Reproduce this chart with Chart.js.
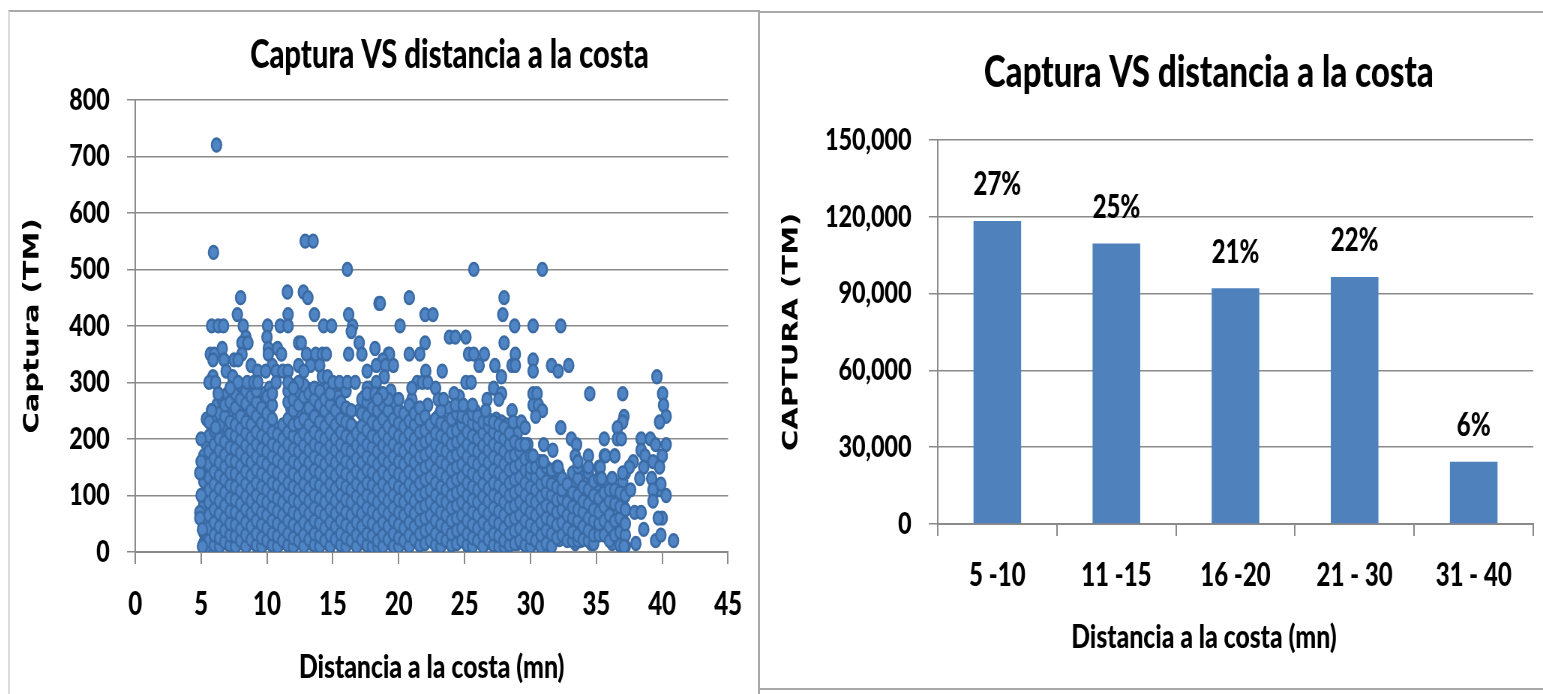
<!DOCTYPE html>
<html>
<head>
<meta charset="utf-8">
<script src="https://cdn.jsdelivr.net/npm/chart.js@4/dist/chart.umd.min.js"></script>
<style>
  body { margin: 0; background: #fff; overflow: hidden; }
  canvas { position: absolute; transform: scaleX(0.75); transform-origin: 0 0; }
  .marco { position: absolute; box-sizing: border-box; }
</style>
</head>
<body>
<div class="marco" style="left:8px;top:10px;width:752px;height:700px;border-top:2px solid #a9a9a9;border-left:2px solid #dcdcdc;border-right:2px solid #a9a9a9"></div>
<div class="marco" style="left:760px;top:11px;width:800px;height:679px;border-top:2px solid #a9a9a9;border-bottom:2px solid #a9a9a9"></div>
<canvas id="dispersion" width="997" height="683" style="left:10px;top:12px"></canvas>
<canvas id="barras" width="1044" height="682" style="left:760px;top:12px"></canvas>
<script>
// tramos de distancia (mn)
var columnasX = [5.2,5.6,6.0,6.4,6.8,7.2,7.6,8.0,8.4,8.8,9.2,9.6,10.0,10.4,10.8,11.2,11.6,12.0,12.4,12.8,13.2,13.6,14.0,14.4,14.8,15.2,15.6,16.0,16.4,16.8,17.2,17.6,18.0,18.4,18.8,19.2,19.6,20.0,20.4,20.8,21.2,21.6,22.0,22.4,22.8,23.2,23.6,24.0,24.4,24.8,25.2,25.6,26.0,26.4,26.8,27.2,27.6,28.0,28.4,28.8,29.2,29.6,30.0,30.4,30.8,31.2,31.6,32.0,32.4,32.8,33.2,33.6,34.0,34.4,34.8,35.2,35.6,36.0,36.4,36.8,37.2];
var columnasY = [
  [15,35,60,85,100,125,150,170],
  [20,42,65,88,110,132,155,178,205],
  [12,30,52,75,98,120,142,165,190,215],
  [10,25,45,68,90,112,135,158,180,200,225,245],
  [18,38,60,82,105,128,150,172,195,240,260],
  [12,30,50,72,95,118,140,162,185,210,230,265],
  [10,28,48,70,92,115,138,160,182,205,225,255,280],
  [20,40,62,85,108,130,152,175,198,218,240,270,295],
  [10,30,52,75,98,120,142,165,188,210,230,262,285],
  [22,45,68,90,112,135,158,180,202,225,250,275],
  [12,32,55,78,100,122,145,168,190,212,240,265,285],
  [10,25,48,70,92,115,138,160,182,205,228,255],
  [20,42,65,88,110,132,155,178,200,222,245,275],
  [12,32,55,78,100,122,145,168,190,212,235,260,280],
  [10,28,50,72,95,118,140,162,185,208],
  [20,42,65,88,110,132,155,178,200,225],
  [12,32,55,78,100,122,145,168,190,212,235,265,285],
  [10,25,48,70,92,115,138,160,182,205,225,250,270],
  [20,42,65,88,110,132,155,178,200,228,260,285],
  [10,30,52,75,98,120,142,165,188,210,235,275,295],
  [22,45,68,90,112,135,158,180,202,225,255,280],
  [12,32,55,78,100,122,145,168,190,212,240,270,290],
  [10,28,50,72,95,118,140,162,185,205,230,260,285],
  [20,42,65,88,110,132,155,178,200,222,250,270],
  [10,30,52,75,98,120,142,165,188,210,235,260,280],
  [22,45,68,90,112,135,158,180,200,225,250],
  [12,32,55,78,100,122,145,168,190,212,235,265],
  [10,25,48,70,92,115,138,160,182,205,230,255,285],
  [20,42,65,88,110,132,155,178,200,225,250],
  [10,30,52,75,98,120,142,165,188,210],
  [22,45,68,90,112,135,158,180,200,222,245,270],
  [12,32,55,78,100,122,145,168,190,215,240,265,290],
  [10,28,50,72,95,118,140,162,185,205,230,255],
  [10,20,42,65,88,110,132,155,178,200,225,250,275],
  [10,30,52,75,98,120,142,165,188,210,235,260],
  [22,45,68,90,112,135,158,180,200,222,250,270],
  [10,32,55,78,100,122,145,168,190,212,235],
  [10,25,48,70,92,115,138,160,182,205,228,250],
  [20,42,65,88,110,132,155,178,200,222,245],
  [10,30,52,75,98,120,142,165,188,210,232,260],
  [22,45,68,90,112,135,158,180,200,225,245],
  [12,32,55,78,100,122,145,168,190,212,235,255],
  [15,38,60,82,105,128,150,172,195,215,240],
  [20,42,65,88,110,132,155,178,200,225],
  [12,32,55,78,100,122,145,168,190,210,235],
  [10,25,48,70,92,115,138,160,182,205,228,250],
  [20,42,65,88,110,132,155,178,200,222],
  [12,32,55,78,100,122,145,168,190,212,235],
  [15,38,60,82,105,128,150,172,195,215,245],
  [20,42,65,88,110,132,155,178,200,225,240],
  [12,32,55,78,100,122,145,168,190,212,235],
  [10,25,48,70,92,115,138,160,182,205,228,245],
  [20,42,65,88,110,132,155,178,200,225,240],
  [10,30,52,75,98,120,142,165,188,210,230],
  [22,45,68,90,112,135,158,180,200,222,235],
  [12,32,55,78,100,122,145,168,190,212,230],
  [10,28,50,72,95,118,140,162,185,205,225],
  [10,20,42,65,88,110,132,155,178,200,220],
  [12,32,55,78,100,122,145,168,190,210],
  [15,38,60,82,105,128,150,172,195],
  [20,42,65,88,110,132,155,178,190],
  [12,32,55,78,100,122,145,165,190],
  [10,25,48,70,92,115,138,150,170],
  [20,42,65,88,110,132,150],
  [10,30,52,75,98,120,140,160],
  [15,38,60,82,105,125,150],
  [10,32,55,78,100,120,145],
  [25,48,70,92,115,150],
  [30,52,75,95,110,130],
  [20,42,65,88,120],
  [20,35,60,80,105,140],
  [20,30,55,75,100,130,150],
  [22,45,70,90,115],
  [20,38,60,85,110,140],
  [15,30,55,75,100,125],
  [30,50,70,95,130,150],
  [30,55,80,105,170],
  [20,45,65,90,110],
  [30,55,85,110,170],
  [12,35,60,80,105],
  [10,30,50,75,100,140]
];
// segunda pasada de la nube, entre las columnas anteriores
var relleno = [
  [5.4,10,50,78,120,145,190,235],
  [5.8,25,55,80,105,125,150,170,230,250],
  [6.2,15,45,70,95,130,155,175,210,235,260],
  [6.6,28,55,80,100,125,145,170,215,250,270],
  [7.0,15,35,65,88,110,135,165,190,220,250,280],
  [7.4,22,58,82,105,130,150,178,200,240,270,295],
  [7.8,15,38,60,90,125,150,172,215,240,265],
  [8.2,25,55,78,100,125,145,168,192,225,255,285],
  [8.6,15,42,65,85,110,135,158,180,220,245,275],
  [9.0,28,58,82,105,128,152,172,195,235,255,295],
  [9.4,18,40,62,85,108,132,152,175,198,230,270],
  [9.8,15,35,58,80,102,125,148,170,195,215,240,280],
  [10.2,28,52,75,98,120,142,165,188,212,250,290],
  [10.6,18,40,62,85,108,130,152,175,198,220],
  [11.0,15,35,58,82,105,125,148,170,192],
  [11.4,28,52,75,98,120,142,165,188,210],
  [11.8,18,40,62,85,108,130,152,175,198,225,255,275],
  [12.2,15,35,58,80,102,125,148,170,192,215,270,295],
  [12.6,28,52,75,98,120,142,165,188,210,240,265,285],
  [13.0,18,40,62,85,108,130,152,175,198,220,250,290],
  [13.4,15,35,58,80,102,125,148,170,192,215,235,265],
  [13.8,28,52,75,98,120,142,165,188,210,250,280],
  [14.2,18,40,62,85,108,130,152,175,198,220,240,270],
  [14.6,15,35,58,80,102,125,148,170,192,215,245,290],
  [15.0,28,52,75,98,120,142,165,188,210,230,265,285],
  [15.4,18,40,62,85,108,130,152,175,198,220,250,275],
  [15.8,15,35,58,80,102,125,148,170,192,215,240,295],
  [16.2,28,52,75,98,120,142,165,188,210,235],
  [16.6,18,40,62,85,108,130,152,175,198,220],
  [17.0,15,35,58,80,102,125,148,170,192,215,250],
  [17.4,28,52,75,98,120,142,165,188,210,230,255,275],
  [17.8,18,40,62,85,108,130,152,175,198,220,240,290],
  [18.2,15,35,58,80,102,125,148,170,192,215,235,265],
  [18.6,28,52,75,98,120,142,165,188,210,230,255],
  [19.0,18,40,62,85,108,130,152,175,198,220,245,265],
  [19.4,15,35,58,80,102,125,148,170,192,215,240,285],
  [19.8,28,52,75,98,120,142,165,188,210,235,260],
  [20.2,18,40,62,85,108,130,152,175,198,220,245],
  [20.6,15,35,58,80,102,125,148,170,192,215,240],
  [21.0,28,52,75,98,120,142,165,188,210,230,270],
  [21.4,18,40,62,85,108,130,152,175,198,220,250],
  [21.8,15,35,58,80,102,125,148,170,192,215,235],
  [22.2,28,52,75,98,120,142,165,188,205,230,260],
  [22.6,18,40,62,85,108,130,152,175,198,220],
  [23.0,15,35,58,80,102,125,148,170,192,215,240],
  [23.4,28,52,75,98,120,142,165,188,210,230],
  [23.8,18,40,62,85,108,130,152,175,198,220,255],
  [24.2,15,35,58,80,102,125,148,170,192,215,235],
  [24.6,28,52,75,98,120,142,165,188,210,240,275],
  [25.0,18,40,62,85,108,130,152,175,198,220,250],
  [25.4,15,35,58,80,102,125,148,170,192,215,235],
  [25.8,28,52,75,98,120,142,165,188,210,230,250],
  [26.2,18,40,62,85,108,130,152,175,198,215],
  [26.6,15,35,58,80,102,125,148,170,192,225,240],
  [27.0,28,52,75,98,120,142,165,188,210,230],
  [27.4,18,40,62,85,108,130,152,175,198,215,235],
  [27.8,15,35,58,80,102,125,148,170,192,210,230],
  [28.2,28,52,75,98,120,142,165,188,205,225],
  [28.6,18,40,62,85,108,130,152,175,198,215],
  [29.0,15,35,58,80,102,125,148,170,190,210],
  [29.4,28,52,75,98,120,142,165,190],
  [29.8,18,40,62,85,108,130,152,175,190],
  [30.2,15,35,55,80,100,120,145],
  [30.6,25,45,70,90,110,135,160],
  [31.0,15,35,60,80,105,125],
  [31.4,12,45,65,90,115,140],
  [31.8,30,55,85,105,125],
  [32.2,22,40,70,100,140],
  [32.6,50,80,110],
  [33.0,45,90],
  [33.4,15,40,65,85,125],
  [33.8,20,55,75,100,135],
  [34.2,30,80],
  [34.6,15,50,70,95,120],
  [35.0,60,110],
  [35.4,50,100],
  [35.8,35,65,90,115],
  [36.2,15,45,70,100,130],
  [36.6,55,95],
  [37.0,20,40,65,85,110,125]
];
// puntos sueltos, leidos uno a uno
var sueltosX = [6.17,5.94,12.9,13.5,16.1,25.7,30.9,8.0,11.55,12.76,13.1,20.8,28.0,18.5,18.6,7.75,11.6,13.6,16.2,22.0,22.6,27.9,5.8,6.3,6.7,8.2,10.05,11.0,11.6,14.3,14.9,16.5,20.1,28.8,30.2,32.3,16.4,10.0,8.4,23.85,24.3,25.1,8.1,8.55,12.4,12.6,17.0,22.0,28.0,18.2,5.7,6.0,6.6,8.1,10.1,10.8,13.0,13.7,14.2,14.5,16.2,17.2,19.2,19.3,20.8,21.6,25.3,25.7,26.5,28.85,5.9,6.75,7.5,7.8,10.1,11.1,18.8,30.2,12.4,13.3,14.0,18.3,19.0,19.6,10.4,8.8,26.1,27.3,28.6,28.85,31.6,32.9,6.9,9.3,9.9,10.7,11.2,11.6,12.8,17.6,23.3,22.05,30.2,32.1,5.9,7.4,14.2,14.6,18.9,27.8,39.6,5.6,6.1,7.8,8.5,9.0,9.3,10.7,11.6,12.4,15.0,15.5,16.1,16.7,18.3,21.4,21.8,22.2,25.1,25.5,7.2,12.0,21.0,22.8,27.2,6.3,17.6,18.2,18.7,18.8,24.2,27.8,30.2,30.5,34.5,37.0,40.03,18.4,20.0,23.0,23.4,26.7,27.6,24.3,24.9,25.6,30.2,30.6,40.1,5.8,26.6,28.6,30.9,30.4,37.1,40.3,37.0,39.8,28.7,29.3,5.6,6.1,29.6,32.3,36.6,5.0,33.1,35.6,36.6,36.9,38.4,39.1,39.5,33.5,40.3,31.0,31.7,38.4,38.7,40.0,30.2,33.4,34.4,35.7,36.4,37.8,39.3,31.0,33.6,35.3,37.5,38.6,39.8,32.1,34.4,37.0,5.0,4.9,5.0,35.4,39.8,39.2,38.3,39.9,37.6,39.3,5.0,40.3,4.9,39.3,37.9,38.4,40.0,4.9,39.7,5.1,38.6,39.5,39.9,40.86,38.0,37.1,5.1];
var sueltosY = [720,530,550,550,500,500,500,450,460,460,450,450,450,440,440,420,420,420,420,420,420,420,400,400,400,400,400,400,400,400,400,400,400,400,400,400,390,380,380,380,380,380,370,370,370,370,370,370,370,360,350,350,360,350,360,360,350,350,350,350,350,350,350,350,350,350,350,350,350,350,340,340,340,340,350,350,340,340,330,330,330,330,330,330,330,330,330,330,330,330,330,330,320,320,320,320,320,320,320,320,320,320,320,320,310,310,310,310,310,310,310,300,300,300,300,300,300,300,300,300,300,300,300,300,300,300,300,300,300,300,290,290,290,290,290,280,280,280,280,280,280,280,280,280,280,280,280,270,270,270,270,270,270,260,260,260,260,260,260,250,250,250,250,240,240,240,230,230,230,230,230,220,220,220,220,200,200,200,200,200,200,200,190,190,190,190,180,180,170,170,170,170,170,170,170,160,160,160,160,150,150,150,150,150,150,140,140,140,160,130,110,130,130,120,110,110,100,100,70,90,70,70,60,60,60,40,40,20,30,20,15,10,10,10,10];

var rangos = ['5 -10','11 -15','16 -20','21 - 30','31 - 40'];
var capturaRangos = [118300,109500,92000,96400,24300];
var porcentajes = ['27%','25%','21%','22%','6%'];

var fuente = 'Lato, "Liberation Sans", sans-serif';
var fuenteEje = '"DejaVu Sans", Verdana, sans-serif';
var gris = '#8a8a8a';
var peso = '900';

var puntos = [];
relleno.forEach(function (fila) {
  fila.slice(1).forEach(function (y) { puntos.push({x: fila[0], y: y}); });
});
columnasX.forEach(function (x, i) {
  columnasY[i].forEach(function (y) { puntos.push({x: x, y: y}); });
});
sueltosX.forEach(function (x, i) { puntos.push({x: x, y: sueltosY[i]}); });

// corre el titulo, en el original no esta centrado en el lienzo
var moverTitulo = {
  id: 'moverTitulo',
  afterLayout: function (chart, args, opts) {
    chart.titleBlock.left += opts.dx;
    chart.titleBlock.right += opts.dx;
  }
};

// porcentajes sobre las barras y titulo del eje x, que va desplazado
var textosBarras = {
  id: 'textosBarras',
  afterDatasetsDraw: function (chart) {
    var ctx = chart.ctx;
    ctx.save();
    ctx.fillStyle = '#000';
    ctx.textAlign = 'center';
    ctx.textBaseline = 'middle';
    ctx.font = peso + ' 32px ' + fuente;
    chart.getDatasetMeta(0).data.forEach(function (bar, i) {
      ctx.fillText(porcentajes[i], bar.x, bar.y - 36);
    });
    ctx.font = peso + ' 33px ' + fuente;
    ctx.fillText('Distancia a la costa (mn)', 592, 625);
    ctx.restore();
  }
};

new Chart(document.getElementById('dispersion'), {
  type: 'scatter',
  data: {
    datasets: [{
      data: puntos,
      backgroundColor: '#4f85c4',
      borderColor: '#3b6ba5',
      borderWidth: 2.5,
      pointRadius: 6.4
    }]
  },
  plugins: [moverTitulo],
  options: {
    responsive: false,
    animation: false,
    layout: { padding: { right: 31 } },
    plugins: {
      legend: { display: false },
      tooltip: { enabled: false },
      moverTitulo: { dx: 103 },
      title: {
        display: true,
        text: 'Captura VS distancia a la costa',
        color: '#000',
        font: { family: fuente, size: 39, weight: peso },
        padding: { top: 20, bottom: 21 }
      }
    },
    scales: {
      x: {
        type: 'linear',
        min: 0,
        max: 45,
        afterFit: function (s) { s.height = 143; },
        grid: { drawOnChartArea: false, color: gris, lineWidth: 2, tickLength: 12 },
        border: { color: gris, width: 2 },
        ticks: { stepSize: 5, color: '#000', padding: 21, maxRotation: 0, font: { family: fuente, size: 32, weight: peso } },
        title: {
          display: true,
          text: 'Distancia a la costa (mn)',
          color: '#000',
          font: { family: fuente, size: 33, weight: peso },
          padding: { top: 12, bottom: 8 }
        }
      },
      y: {
        min: 0,
        max: 800,
        afterFit: function (s) { s.width = 167; },
        grid: { color: gris, lineWidth: 1.5, tickLength: 11 },
        border: { color: gris, width: 2 },
        ticks: { stepSize: 100, color: '#000', padding: 23, font: { family: fuente, size: 31, weight: peso } },
        title: {
          display: true,
          text: 'Captura (TM)',
          color: '#000',
          font: { family: fuenteEje, size: 29, weight: 'bold' },
          padding: { top: 13, bottom: 0 }
        }
      }
    }
  }
});

new Chart(document.getElementById('barras'), {
  type: 'bar',
  data: {
    labels: rangos,
    datasets: [{
      data: capturaRangos,
      backgroundColor: '#4f81bd',
      barPercentage: 0.4,
      categoryPercentage: 1
    }]
  },
  plugins: [moverTitulo, textosBarras],
  options: {
    responsive: false,
    animation: false,
    layout: { padding: { right: 13 } },
    plugins: {
      legend: { display: false },
      tooltip: { enabled: false },
      moverTitulo: { dx: 83 },
      title: {
        display: true,
        text: 'Captura VS distancia a la costa',
        color: '#000',
        font: { family: fuente, size: 44, weight: peso },
        padding: { top: 34, bottom: 41 }
      }
    },
    scales: {
      x: {
        afterFit: function (s) { s.height = 170; },
        grid: { drawOnChartArea: false, color: gris, lineWidth: 2, tickLength: 12 },
        border: { color: gris, width: 2 },
        ticks: { color: '#000', padding: 20, maxRotation: 0, font: { family: fuente, size: 32, weight: peso } }
      },
      y: {
        min: 0,
        max: 150000,
        afterFit: function (s) { s.width = 237; },
        grid: { color: gris, lineWidth: 1.5, tickLength: 12 },
        border: { color: gris, width: 2 },
        ticks: {
          stepSize: 30000,
          color: '#000',
          padding: 23,
          font: { family: fuente, size: 31, weight: peso },
          callback: function (v) { return v.toLocaleString('en-US'); }
        },
        title: {
          display: true,
          text: 'CAPTURA (TM)',
          color: '#000',
          font: { family: fuenteEje, size: 29, weight: 'bold' },
          padding: { top: 25, bottom: 0 }
        }
      }
    }
  }
});
</script>
</body>
</html>
